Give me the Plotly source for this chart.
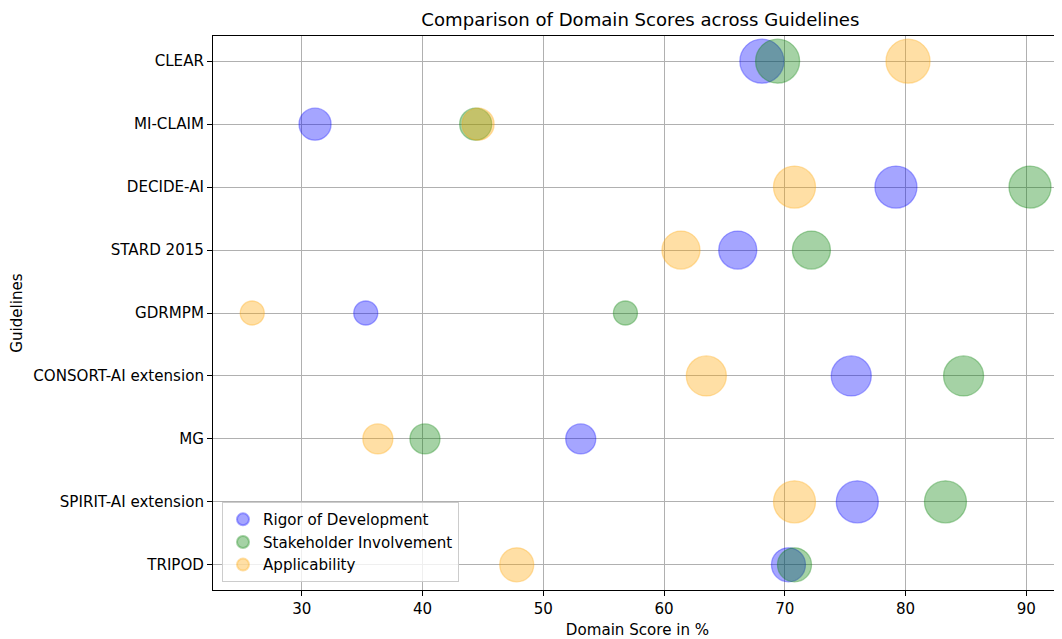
import plotly.graph_objects as go

guidelines = ["CLEAR", "MI-CLAIM", "DECIDE-AI", "STARD 2015", "GDRMPM",
              "CONSORT-AI extension", "MG", "SPIRIT-AI extension", "TRIPOD"]
rigor = [68.1, 31.1, 79.2, 66.1, 35.3, 75.5, 53.1, 76.0, 70.3]
stakeholder = [69.4, 44.4, 90.3, 72.2, 56.8, 84.8, 40.2, 83.3, 70.8]
applicability = [80.2, 44.6, 70.8, 61.4, 25.9, 63.5, 36.3, 70.8, 47.8]
bubble_size = [44, 32, 42, 38, 24, 40, 30, 42, 34]

series = [
    ("Rigor of Development", rigor, "rgba(0,0,255,0.5)"),
    ("Stakeholder Involvement", stakeholder, "rgba(0,128,0,0.5)"),
    ("Applicability", applicability, "rgba(255,165,0,0.5)"),
]

fig = go.Figure()
for name, vals, col in series:
    fig.add_trace(go.Scatter(
        x=vals, y=guidelines, mode="markers", name=name,
        marker=dict(size=bubble_size, color=col, line=dict(color=col, width=1.3)),
    ))

font = "DejaVu Sans, sans-serif"
FS = 15.1
W, H = 1054, 631
fig.update_layout(
    width=W, height=H,
    margin=dict(l=205, r=0, t=28, b=49, autoexpand=False),
    paper_bgcolor="white", plot_bgcolor="white",
    font=dict(family=font, size=FS, color="black"),
    title=dict(text="Comparison of Domain Scores across Guidelines", x=0.6, xanchor="center",
               y=1 - 12 / H, yanchor="middle", font=dict(size=18.1, family=font),
               automargin=False),
    showlegend=True,
    legend=dict(x=0.0106, y=0.0144, xanchor="left", yanchor="bottom",
                bgcolor="rgba(255,255,255,0.8)", bordercolor="#cccccc", borderwidth=1,
                font=dict(size=FS), itemsizing="constant", tracegroupgap=2),
)
fig.update_xaxes(
    range=[22.65, 92.95], tickvals=[30, 40, 50, 60, 70, 80, 90],
    showgrid=True, gridcolor="#b0b0b0", gridwidth=0.8,
    showline=True, linecolor="black", linewidth=1, mirror=True,
    ticks="outside", ticklen=5, tickcolor="black", zeroline=False,
    automargin=False,
    title=dict(text="Domain Score in %", font=dict(size=FS), standoff=13),
)
fig.update_yaxes(
    type="category", categoryorder="array", categoryarray=guidelines[::-1],
    range=[-0.4, 8.4],
    showgrid=True, gridcolor="#b0b0b0", gridwidth=0.8,
    showline=True, linecolor="black", linewidth=1,
    ticks="outside", ticklen=5, tickcolor="black", zeroline=False,
    automargin=False,
    title=dict(text="Guidelines", font=dict(size=FS), standoff=16),
)
fig.write_html("out.html")
